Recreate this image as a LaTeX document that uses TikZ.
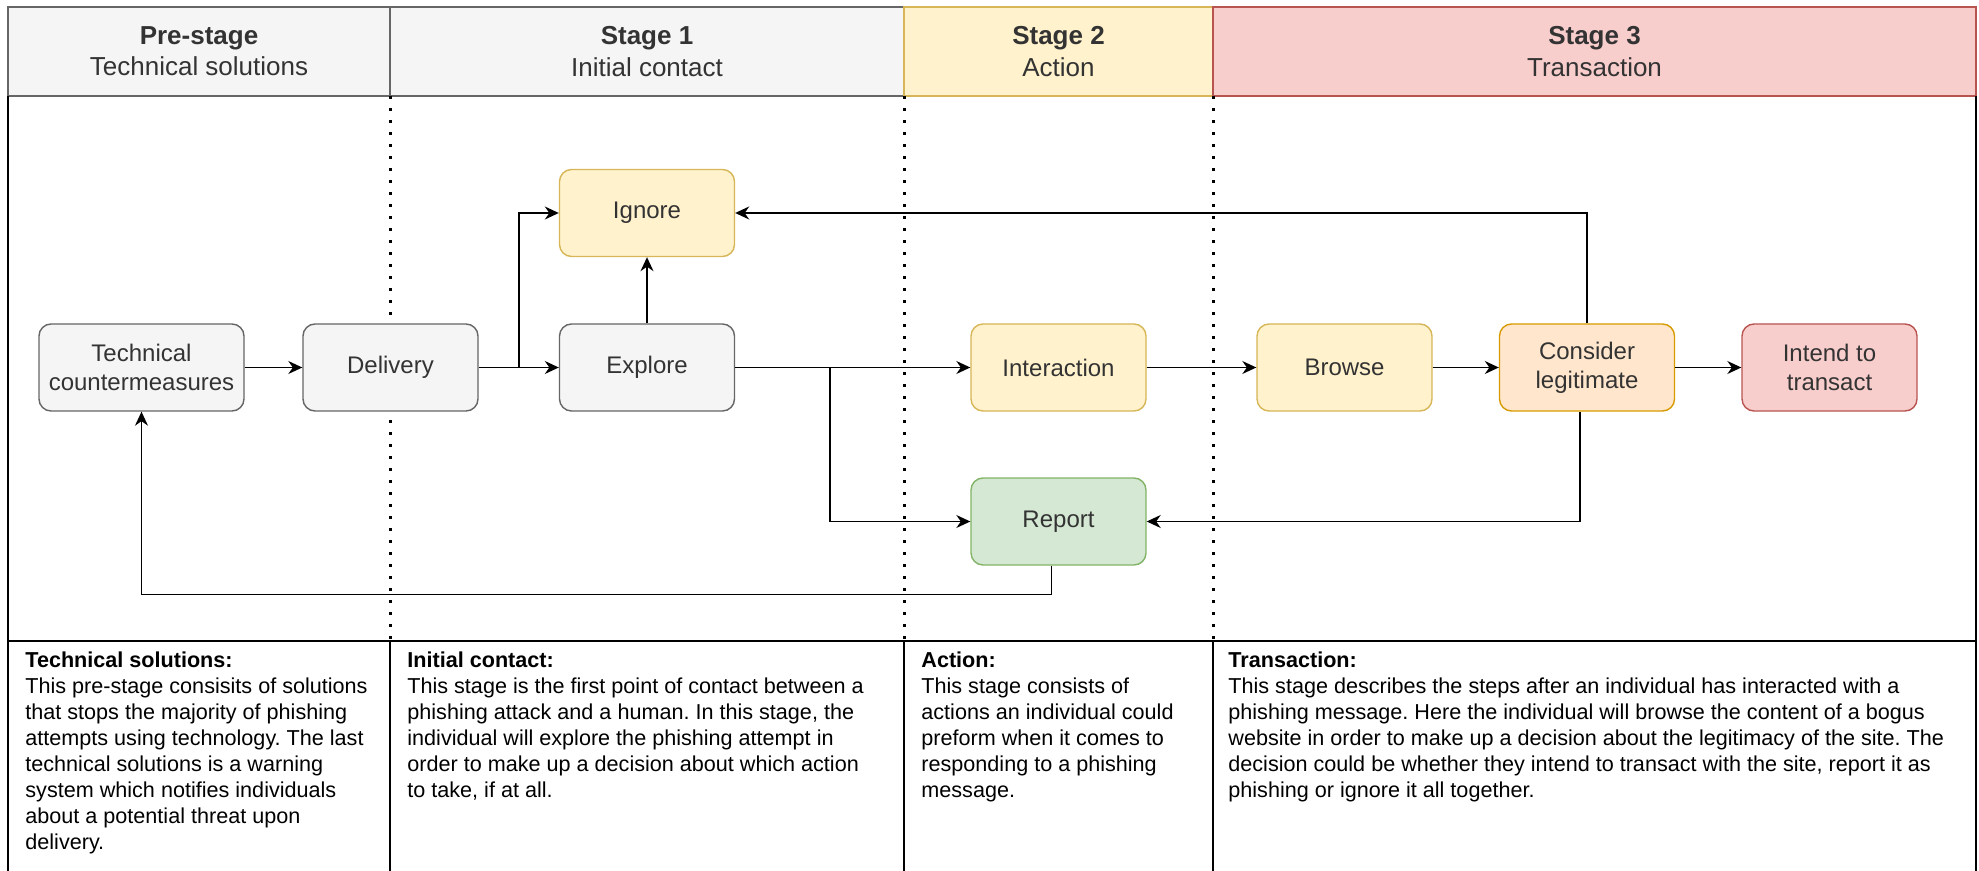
\documentclass[tikz,border=0pt]{standalone}
\usepackage{fontspec}
\setmainfont{Liberation Sans}
\usetikzlibrary{arrows.meta,positioning}
\definecolor{grayfill}{HTML}{F5F5F5}
\definecolor{grayline}{HTML}{666666}
\definecolor{yelfill}{HTML}{FFF2CC}
\definecolor{yelline}{HTML}{D6B656}
\definecolor{orafill}{HTML}{FFE6CC}
\definecolor{oraline}{HTML}{D79B00}
\definecolor{redfill}{HTML}{F8CECC}
\definecolor{redline}{HTML}{B85450}
\definecolor{grnfill}{HTML}{D5E8D4}
\definecolor{grnline}{HTML}{82B366}
\definecolor{txtgray}{HTML}{333333}
\frenchspacing

\begin{document}
\begin{tikzpicture}[x=.5pt,y=-.5pt,>={Stealth[length=7pt,width=6.5pt]},
 box/.style={draw,rounded corners=6pt,line width=.7pt,minimum width=87.5pt,minimum height=43.5pt,
  align=center,text=txtgray,font=\fontsize{12}{14.5}\selectfont},
 greybox/.style={box,fill=grayfill,draw=grayline},
 yelbox/.style={box,fill=yelfill,draw=yelline},
 orabox/.style={box,fill=orafill,draw=oraline},
 redbox/.style={box,fill=redfill,draw=redline},
 grnbox/.style={box,fill=grnfill,draw=grnline},
 link/.style={->,line width=.7pt},
 sepline/.style={line width=1.5pt,dash pattern=on 1.5pt off 4.5pt},
 head/.style={align=center,text=txtgray,font=\fontsize{13}{15.6}\selectfont},
 desc/.style={anchor=north west,inner sep=0pt,align=left,font=\fontsize{10.8}{13}\selectfont}]
\useasboundingbox (0,0) rectangle (1979,871);

% header row
\draw[fill=grayfill,draw=grayline,line width=.7pt] (8,7) rectangle (390,96);
\draw[fill=grayfill,draw=grayline,line width=.7pt] (390,7) rectangle (904,96);
\draw[fill=yelfill,draw=yelline,line width=.7pt] (904,7) rectangle (1213,96);
\draw[fill=redfill,draw=redline,line width=.7pt] (1213,7) rectangle (1976,96);
\node[head] (h0) at (199,51.5) {\textbf{Pre-stage}\\Technical solutions};
\node[head] (h1) at (647,51.5) {\textbf{Stage 1}\\Initial contact};
\node[head] (h2) at (1058.5,51.5) {\textbf{Stage 2}\\Action};
\node[head] (h3) at (1594.5,51.5) {\textbf{Stage 3}\\Transaction};

% frame and columns
\draw[line width=.7pt] (8,96) -- (8,871);
\draw[line width=.7pt] (1976,96) -- (1976,871);
\draw[line width=.7pt] (8,641) -- (1976,641);
\foreach \x in {390,904,1213}{
 \draw[sepline] (\x,96) -- (\x,641);
 \draw[line width=.7pt] (\x,641) -- (\x,871);
}

% flow
\node[greybox,minimum width=102.5pt] (tech) at (141.5,367.5) {Technical\\countermeasures};
\node[greybox] (deliv) at (390.5,367.5) {Delivery};
\node[greybox] (explore) at (647,367.5) {Explore};
\node[yelbox] (ignore) at (647,213) {Ignore};
\node[yelbox] (interact) at (1058.5,367.5) {Interaction};
\node[grnbox] (report) at (1058.5,521.5) {Report};
\node[yelbox] (browse) at (1344.5,367.5) {Browse};
\node[orabox] (consider) at (1587,367.5) {Consider\\legitimate};
\node[redbox] (intend) at (1829.5,367.5) {Intend to\\transact};
\coordinate (fork1) at (519,367.5);
\coordinate (fork2) at (830,367.5);

\draw[link] (tech) -- (deliv);
\draw[link] (deliv) -- (explore);
\draw[link] (fork1) |- (ignore.west);
\draw[link] (explore) -- (ignore);
\draw[link] (explore) -- (interact);
\draw[link] (fork2) |- (report.west);
\draw[link] (interact) -- (browse);
\draw[link] (browse) -- (consider);
\draw[link] (consider) -- (intend);
\draw[link] (consider.north) |- (ignore.east);
\draw[link] ([xshift=-3.5pt]consider.south) |- (report.east);
\draw[link] ([xshift=-3.5pt]report.south) -- ++(0,29) -| (tech.south);

% descriptions
\node[desc] (d0) at (25,651) {\textbf{Technical solutions:}\\This pre-stage consisits of solutions\\that stops the majority of phishing\\attempts using technology. The last\\technical solutions is a warning\\system which notifies individuals\\about a potential threat upon\\delivery.};
\node[desc] (d1) at (407,651) {\textbf{Initial contact:}\\This stage is the first point of contact between a\\phishing attack and a human. In this stage, the\\individual will explore the phishing attempt in\\order to make up a decision about which action\\to take, if at all.};
\node[desc] (d2) at (921,651) {\textbf{Action:}\\This stage consists of\\actions an individual could\\preform when it comes to\\responding to a phishing\\message.};
\node[desc] (d3) at (1228,651) {\textbf{Transaction:}\\This stage describes the steps after an individual has interacted with a\\phishing message. Here the individual will browse the content of a bogus\\website in order to make up a decision about the legitimacy of the site. The\\decision could be whether they intend to transact with the site, report it as\\phishing or ignore it all together.};
\end{tikzpicture}
\end{document}
